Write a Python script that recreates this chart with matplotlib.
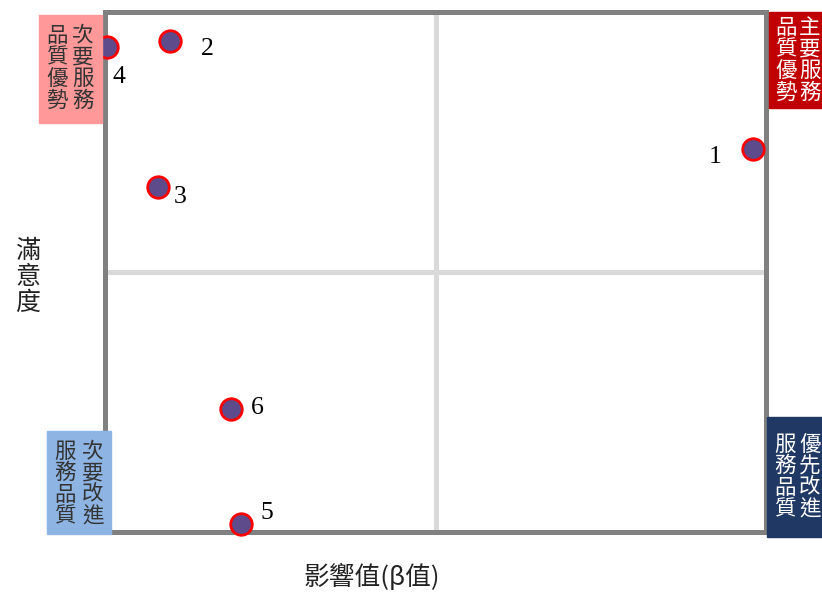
import matplotlib.pyplot as plt
from matplotlib.patches import Rectangle

# data (normalised position inside the quadrant frame)
labels = ['1', '2', '3', '4', '5', '6']
beta = [0.980, 0.098, 0.080, 0.003, 0.206, 0.191]
satisfaction = [0.737, 0.944, 0.663, 0.933, 0.015, 0.237]
label_offsets = [(-38, -8), (38, -8), (22, -10), (12, -30), (26, 11), (26, 1)]

quadrant_text = {
    'tl': ('次要服務', '品質優勢'),
    'tr': ('主要服務', '品質優勢'),
    'bl': ('次要改進', '服務品質'),
    'br': ('優先改進', '服務品質'),
}

W, H = 822, 592
fig = plt.figure(figsize=(W / 100, H / 100), dpi=100)
ax = fig.add_axes([105 / W, 60 / H, 661 / W, 520 / H])
ax.set_xlim(0, 1)
ax.set_ylim(0, 1)
ax.set_xticks([])
ax.set_yticks([])
for s in ax.spines.values():
    s.set_color('#808080')
    s.set_linewidth(3.6)

# quadrant divider lines
ax.axvline(0.5, color='#d9d9d9', lw=3.6, zorder=1)
ax.axhline(0.5, color='#d9d9d9', lw=3.6, zorder=1)

ax.scatter(beta, satisfaction, s=240, color='#5e4b8b', edgecolors='red',
           linewidths=2.0, zorder=3, clip_on=False)
for lab, x, y, (dx, dy) in zip(labels, beta, satisfaction, label_offsets):
    ax.annotate(lab, (x, y), xytext=(dx * 0.72, dy * 0.72), textcoords='offset points',
                ha='center', va='center', fontsize=18.5, family='Liberation Serif',
                annotation_clip=False)

cjk = ['Noto Sans CJK TC', 'DejaVu Sans']


def px_box(x0, y0, x1, y1, color):
    fig.patches.append(Rectangle((x0 / W, 1 - y1 / H), (x1 - x0) / W, (y1 - y0) / H,
                                 transform=fig.transFigure, color=color, zorder=5))


def vtext(x, ymid, s, color):
    fig.text(x / W, 1 - ymid / H, '\n'.join(s), ha='center', va='center',
             fontsize=15.5, family=cjk, color=color, linespacing=0.98, zorder=6)


# top-left
px_box(39, 15, 102, 123, '#ff9999')
vtext(83, 68, quadrant_text['tl'][0], '#333333')
vtext(57, 68, quadrant_text['tl'][1], '#333333')
# top-right
px_box(769, 12, 822, 108, '#c00000')
vtext(810, 60, quadrant_text['tr'][0], 'white')
vtext(786, 60, quadrant_text['tr'][1], 'white')
# bottom-left
px_box(47, 431, 111, 534, '#8db4e2')
vtext(93, 484, quadrant_text['bl'][0], '#333333')
vtext(65, 484, quadrant_text['bl'][1], '#333333')
# bottom-right
px_box(767, 417, 822, 537, '#1f3864')
vtext(810, 477, quadrant_text['br'][0], 'white')
vtext(785, 477, quadrant_text['br'][1], 'white')

# axis titles
fig.text(28 / W, 1 - 277 / H, '\n'.join('滿意度'), ha='center', va='center',
         fontsize=18, family=cjk, color='#222222', linespacing=1.0)
fig.text(372 / W, 1 - 577 / H, '影響值(β值)', ha='center', va='center',
         fontsize=18.5, family=cjk, color='#222222')

fig.savefig('out.png', dpi=100)
